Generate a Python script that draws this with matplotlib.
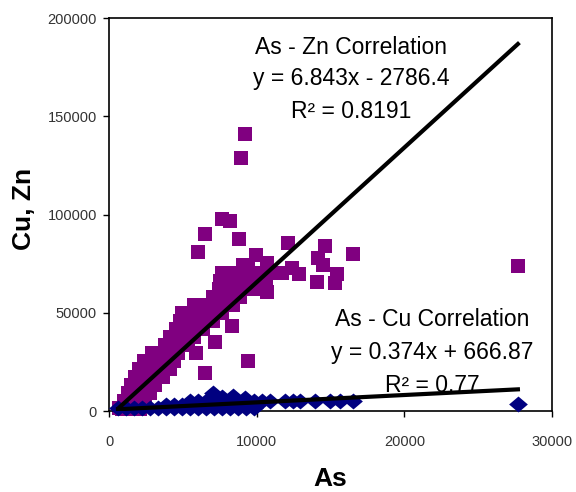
import numpy as np
import matplotlib
matplotlib.use("Agg")
import matplotlib.pyplot as plt

plt.rcParams["font.family"] = ["Liberation Sans", "DejaVu Sans"]

# ------------------------------------------------------------
# Donnees (As en abscisse, Cu / Zn en ordonnee)
# ------------------------------------------------------------

# Zn : nuage dense (rangees) + points isoles
zn_as = [640,
         850, 1460, 2070,
         980, 1460, 1930, 2410,
         1250, 1730, 2270, 2750,
         1460, 2000, 2540, 3080,
         1730, 2200, 2680, 3150, 3630,
         2000, 2540, 3080, 3630, 4100,
         2340, 2880, 3360, 3900, 4370,
         2880, 3490, 4100, 4640,
         3760, 4310, 4850, 5320,
         4100, 4640, 5190, 5730,
         4510, 5120, 5730, 6340,
         4780, 5320, 5930, 6480, 7020,
         4920, 5460, 6000, 6540, 7090, 7630,
         5730, 6270, 6810, 7360, 7900, 8370,
         7020, 7630, 8240, 8850,
         7420, 8030, 8580, 9190, 9730,
         7490, 8030, 8580, 9120, 9660, 10140, 10610,
         7630, 8170, 8710, 9250, 9800, 10340, 10880, 11220,
         9050, 9390,
         9190, 8920, 7630, 8170, 6480, 6000, 8780, 12100, 9930, 10680,
         11690, 9390, 6480, 5860, 7150, 8300, 10680, 14600, 16510, 14140,
         14480, 12370, 12850, 15420, 14070, 15290, 27700]
zn_vals = [1500,
           1000, 1000, 1000,
           5100, 5100, 5100, 5100,
           9200, 9200, 9200, 9200,
           13200, 13200, 13200, 13200,
           17300, 17300, 17300, 17300, 17300,
           21400, 21400, 21400, 21400, 21400,
           25400, 25400, 25400, 25400, 25400,
           29500, 29500, 29500, 29500,
           33600, 33600, 33600, 33600,
           37700, 37700, 37700, 37700,
           41700, 41700, 41700, 41700,
           45800, 45800, 45800, 45800, 45800,
           49900, 49900, 49900, 49900, 49900, 49900,
           53900, 53900, 53900, 53900, 53900, 53900,
           58000, 58000, 58000, 58000,
           62100, 62100, 62100, 62100, 62100,
           66200, 66200, 66200, 66200, 66200, 66200, 66200,
           70200, 70200, 70200, 70200, 70200, 70200, 70200, 70200,
           74300, 74300,
           141000, 128800, 97700, 96700, 90100, 80900, 87500, 85500, 79400, 75300,
           70200, 25500, 19300, 29500, 35100, 43300, 60600, 84000, 79900, 77900,
           74300, 72800, 69700, 69700, 65600, 65100, 73800]

# Cu : bande basse + un point isole a droite
cu_as = [580, 1120, 1660, 2200, 2750, 3290, 3830, 4370, 4920, 5460,
         6000, 6540, 7090, 7630, 8170, 8710, 9250, 9800,
         3830, 4370, 4920,
         5460, 6000, 6540, 7090, 7630, 8170, 8710, 9250, 9800, 10340,
         10880, 11900, 12440, 12920, 13940, 14950, 15630, 16510,
         7020, 8370, 9190, 7630,
         27700]
cu_vals = [1500, 1500, 1500, 1500, 1500, 1500, 1500, 1500, 1500, 1500,
           1500, 1500, 1500, 1500, 1500, 1500, 1500, 1500,
           3100, 3100, 3100,
           5100, 5100, 5100, 5100, 5100, 5100, 5100, 5100, 5100, 5100,
           5100, 5100, 5100, 5100, 5100, 5100, 5100, 5100,
           9200, 7600, 6600, 7100,
           3600]

# Droites de tendance (Excel)
zn_pente, zn_origine, zn_r2 = 6.843, -2786.4, 0.8191
cu_pente, cu_origine, cu_r2 = 0.374, 666.87, 0.77

# ------------------------------------------------------------
# Graphique
# ------------------------------------------------------------
fig = plt.figure(figsize=(5.76, 4.92), dpi=100)
ax = fig.add_axes([0.190, 0.1646, 0.768, 0.7988])

ax.plot(zn_as, zn_vals, linestyle="none", marker="s", markersize=10,
        color="#800080", markeredgewidth=0, clip_on=False, zorder=2)

losange = [(-1, 0), (0, 0.85), (1, 0), (0, -0.85)]
ax.plot(cu_as, cu_vals, linestyle="none", marker=losange, markersize=13.5,
        color="#000080", markeredgewidth=0, clip_on=False, zorder=3)

# trendlines sur l'etendue des donnees
xz = np.array([min(zn_as), max(zn_as)])
ax.plot(xz, zn_pente * xz + zn_origine, color="black", linewidth=3, zorder=4)
xc = np.array([min(cu_as), max(cu_as)])
ax.plot(xc, cu_pente * xc + cu_origine, color="black", linewidth=3, zorder=4)

ax.set_xlim(0, 30000)
ax.set_ylim(0, 200000)
ax.set_xticks([0, 10000, 20000, 30000])
ax.set_yticks([0, 50000, 100000, 150000, 200000])
ax.tick_params(axis="x", direction="out", length=4, width=1, pad=13,
               labelsize=10.5, labelcolor="#333333")
ax.tick_params(axis="y", direction="out", length=4, width=1, pad=5,
               labelsize=10.5, labelcolor="#333333")
for s in ax.spines.values():
    s.set_linewidth(1.2)
    s.set_color("black")

ax.set_xlabel("As", fontsize=19, fontweight="bold")
ax.xaxis.set_label_coords(0.5, -0.143)
ax.set_ylabel("Cu, Zn", fontsize=19, fontweight="bold")
ax.yaxis.set_label_coords(-0.166, 0.515)

txt = dict(transform=ax.transAxes, ha="center", va="center", fontsize=16.5)
ax.text(0.546, 0.926, "As - Zn Correlation", **txt)
ax.text(0.546, 0.845, f"y = {zn_pente}x - {abs(zn_origine)}", **txt)
ax.text(0.546, 0.761, f"R² = {zn_r2}", **txt)
ax.text(0.730, 0.232, "As - Cu Correlation", **txt)
ax.text(0.730, 0.148, f"y = {cu_pente}x + {cu_origine}", **txt)
ax.text(0.730, 0.066, f"R² = {cu_r2}", **txt)

plt.savefig("out.png", dpi=100)
